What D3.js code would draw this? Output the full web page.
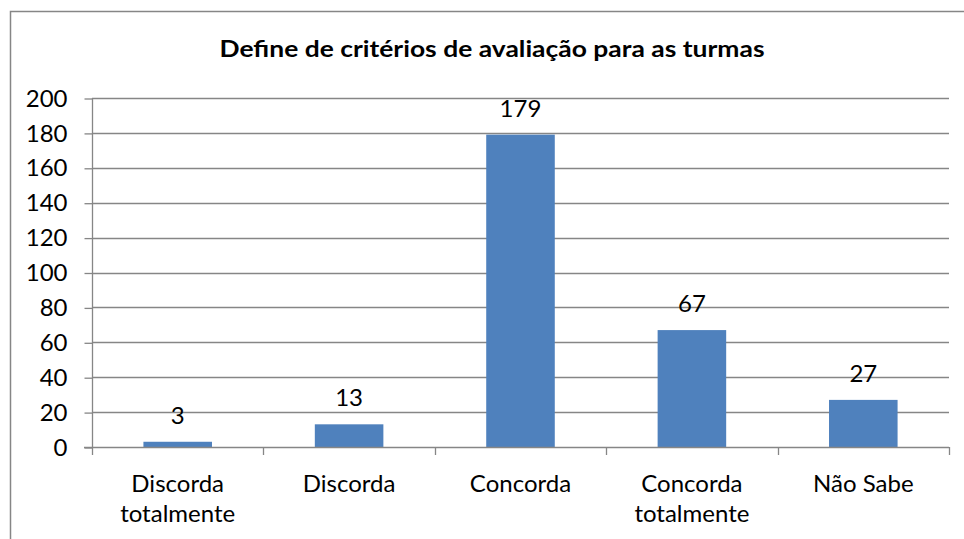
<!DOCTYPE html>
<html><head><meta charset="utf-8">
<script src="https://cdn.jsdelivr.net/npm/d3@7"></script>
<style>body{margin:0;background:#fff}svg{display:block}</style>
</head><body>
<script>
const title = "Define de critérios de avaliação para as turmas";
const categories = [["Discorda","totalmente"],["Discorda"],["Concorda"],["Concorda","totalmente"],["Não Sabe"]];
const values = [3, 13, 179, 67, 27];
const yTicks = [0,20,40,60,80,100,120,140,160,180,200];

(function(){
const W = 964, H = 539;
const font = "Lato, 'Open Sans', sans-serif";
const fs = 24;
const svg = d3.select("body").append("svg").attr("width", W).attr("height", H);
const grey = "#868686";

// frame (top and left visible)
svg.append("path").attr("d", "M10.5,539V11.5H964").attr("fill","none").attr("stroke", grey).attr("stroke-width",1.5);

const pL = 92, pR = 949, pT = 98, pB = 447;
const x = d3.scaleBand().domain(d3.range(values.length)).range([pL, pR]).paddingInner(0.6).paddingOuter(0.3);
const y = d3.scaleLinear().domain([0, 200]).range([pB, pT]);

// title
svg.append("text").attr("x", 492).attr("y", 57).attr("text-anchor","middle")
  .attr("font-family", font).attr("font-weight","bold").attr("font-size", 22)
  .attr("textLength", 545).attr("lengthAdjust","spacingAndGlyphs")
  .text(title);

// gridlines
svg.append("g").selectAll("line").data(yTicks.filter(d=>d>0)).join("line")
  .attr("x1", pL).attr("x2", pR).attr("y1", d=>Math.round(y(d))+0.5).attr("y2", d=>Math.round(y(d))+0.5)
  .attr("stroke", grey).attr("stroke-width",1.3);

// y axis
const yAxis = d3.axisLeft(y).tickValues(yTicks).tickSize(8).tickPadding(17);
const gy = svg.append("g").attr("transform", `translate(${pL+0.5},0.5)`).call(yAxis);
gy.selectAll("line,path").attr("stroke", grey).attr("stroke-width",1.3);
gy.selectAll("text").attr("font-family", font).attr("font-size", fs).attr("fill","#000");
gy.select(".domain").attr("d", `M0,${pT-0.5}V${pB}`);

// bars
svg.append("g").selectAll("rect").data(values).join("rect")
  .attr("x", (d,i)=>x(i)).attr("width", x.bandwidth())
  .attr("y", d=>y(d)).attr("height", d=>pB - y(d))
  .attr("fill", "#4F81BD");

// x axis baseline & ticks
const step = (pR-pL)/values.length;
const xb = svg.append("g");
xb.append("line").attr("x1", pL-8).attr("x2", pR).attr("y1", pB+0.5).attr("y2", pB+0.5).attr("stroke", grey).attr("stroke-width",1.3);
xb.selectAll("line.t").data(d3.range(values.length+1)).join("line").attr("class","t")
  .attr("x1", i=>Math.round(pL+i*step)+0.5).attr("x2", i=>Math.round(pL+i*step)+0.5)
  .attr("y1", pB).attr("y2", pB+8).attr("stroke", grey).attr("stroke-width",1.3);

// category labels
const cl = svg.append("g").selectAll("text").data(categories).join("text")
  .attr("text-anchor","middle").attr("font-family", font).attr("font-size", fs)
  .attr("x", (d,i)=>x(i)+x.bandwidth()/2).attr("y", 492);
cl.selectAll("tspan").data(d=>d).join("tspan")
  .attr("x", function(){ return this.parentNode.getAttribute("x"); })
  .attr("dy", (d,i)=> i===0 ? 0 : 30).text(d=>d);

// value labels
svg.append("g").selectAll("text").data(values).join("text")
  .attr("text-anchor","middle").attr("font-family", font).attr("font-size", fs)
  .attr("x", (d,i)=>x(i)+x.bandwidth()/2).attr("y", d=>y(d)-18).text(d=>d);
})();
</script>
</body></html>
